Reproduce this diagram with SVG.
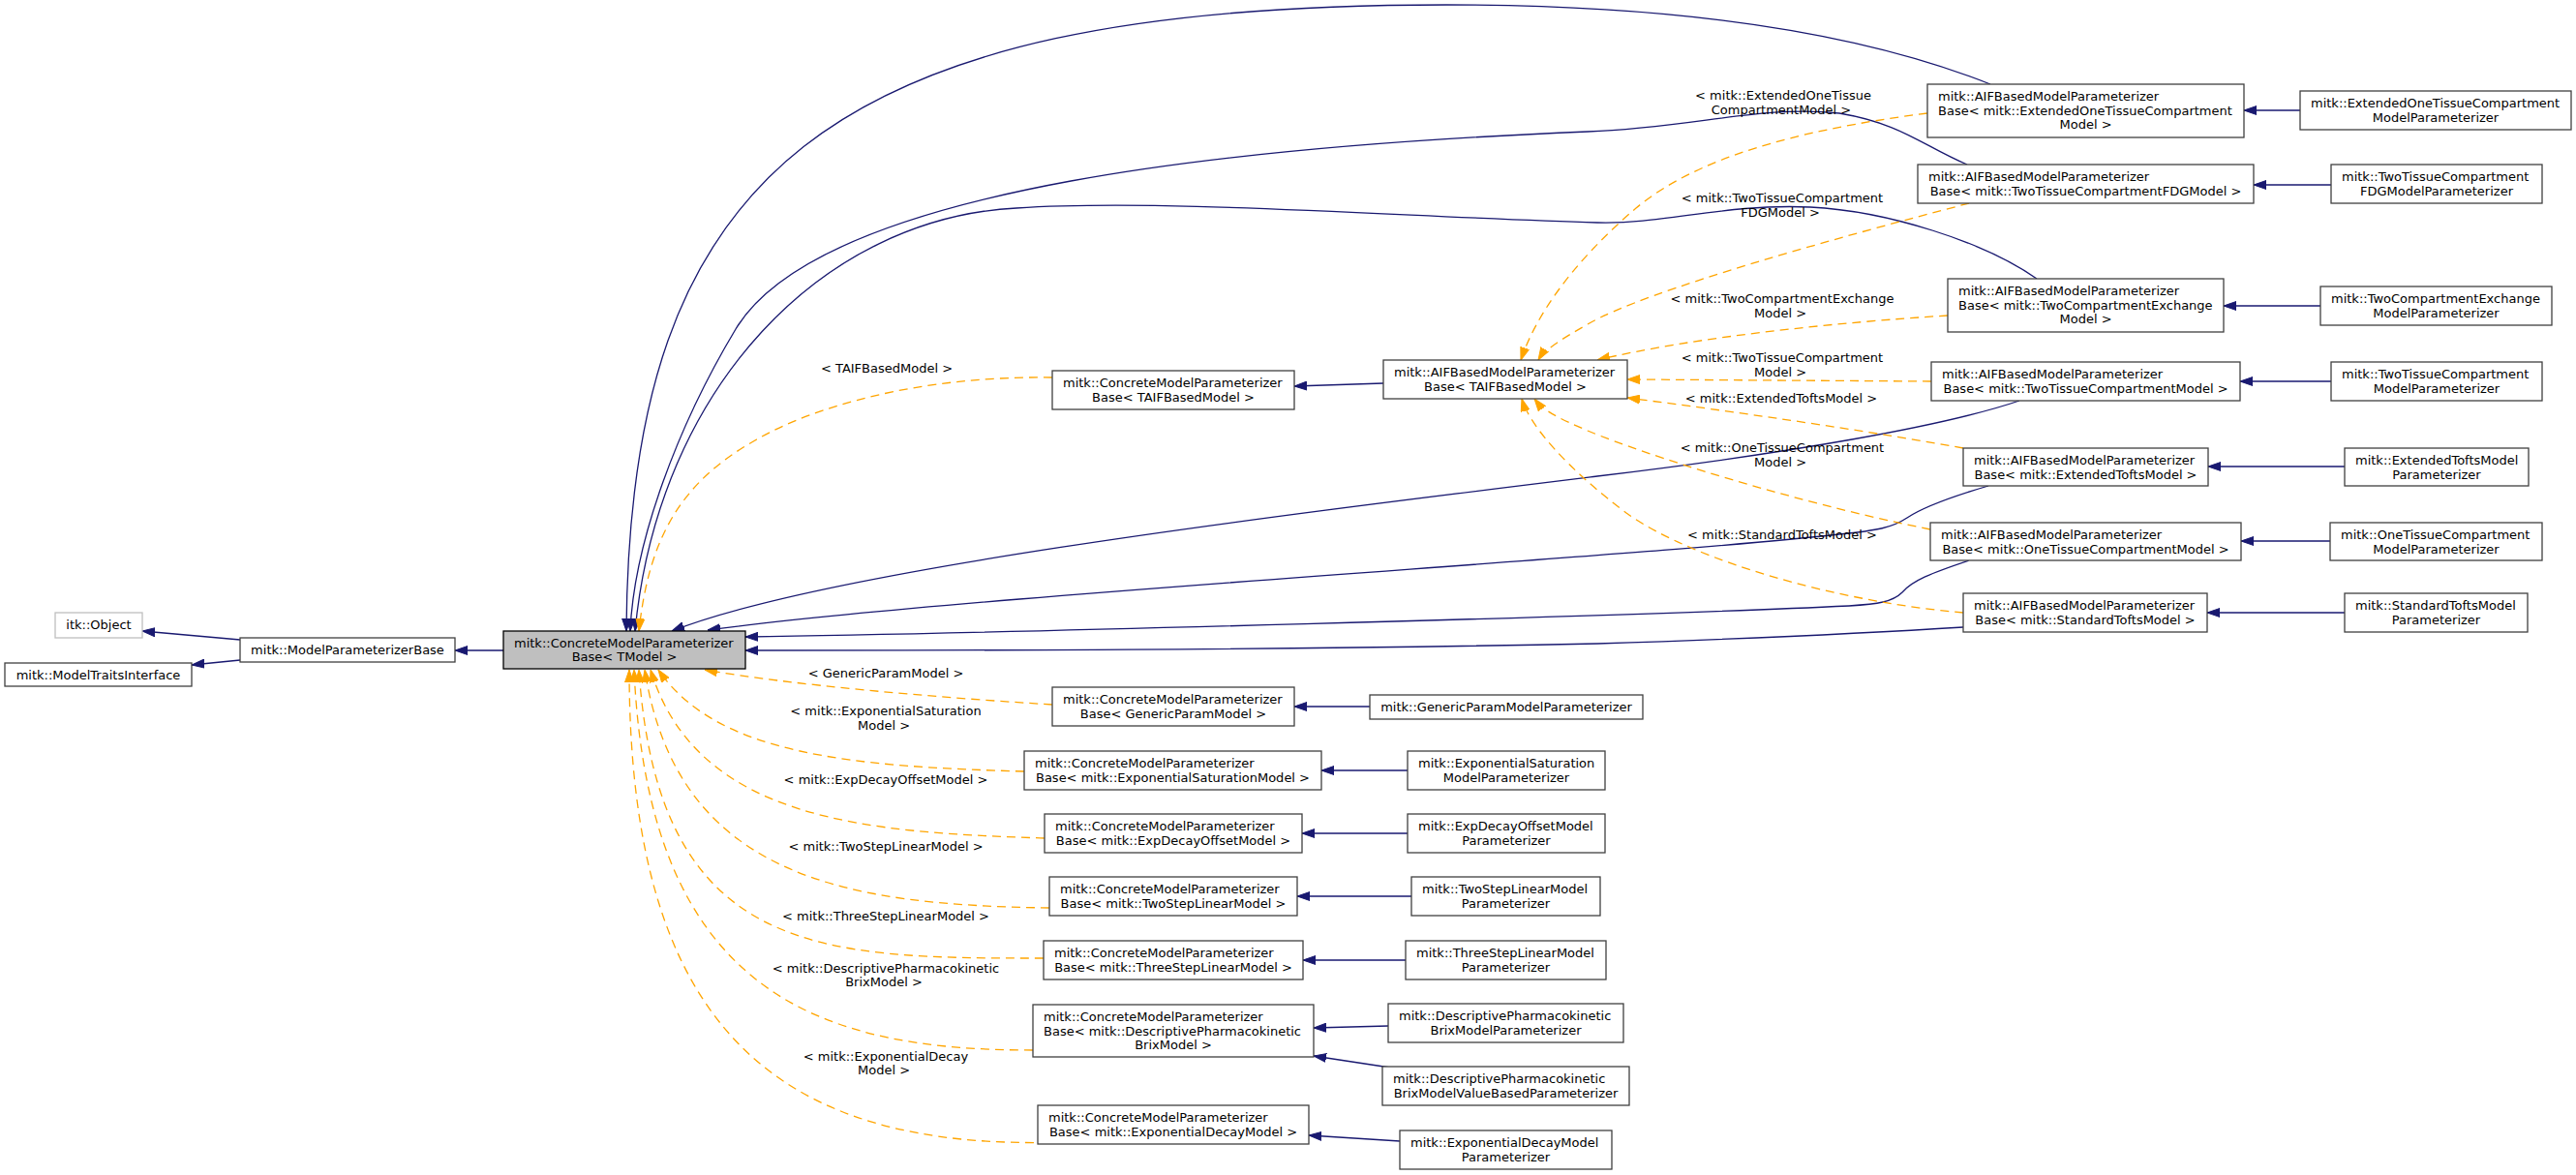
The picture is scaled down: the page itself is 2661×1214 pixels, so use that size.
<svg xmlns="http://www.w3.org/2000/svg" width="2661" height="1214" viewBox="0 0 2661 1214">
<style>
.n rect{fill:#ffffff;stroke:#404040;stroke-width:1.3}
.n.g rect{fill:#bfbfbf;stroke:#000000}
.n.u rect{stroke:#bfbfbf}
text{font-family:"DejaVu Sans","Liberation Sans",sans-serif;font-size:13px;fill:#000000}
.m{text-anchor:middle}
.nv{fill:none;stroke:#191970;stroke-width:1.3;marker-end:url(#mn)}
.or{fill:none;stroke:#ffa500;stroke-width:1.3;stroke-dasharray:9,6;marker-end:url(#mo)}
</style>
<defs>
<marker id="mn" viewBox="0 0 13 10" refX="13" refY="5" markerWidth="13" markerHeight="10" orient="auto" markerUnits="userSpaceOnUse"><path d="M0,0.5 L13,5 L0,9.5 Z" fill="#191970" stroke="#191970" stroke-width="1"/></marker>
<marker id="mo" viewBox="0 0 13 10" refX="13" refY="5" markerWidth="13" markerHeight="10" orient="auto" markerUnits="userSpaceOnUse"><path d="M0,0.5 L13,5 L0,9.5 Z" fill="#ffa500" stroke="#ffa500" stroke-width="1"/></marker>
</defs>
<rect x="0" y="0" width="2661" height="1214" fill="#ffffff"/>
<g id="edges">
<path class="nv" d="M248,661 L147,652"/>
<path class="nv" d="M248,682 L198,687"/>
<path class="nv" d="M520,672 L470,672"/>
<path class="nv" d="M2056,87 C1900,25 1700,5 1494,5 C850,5 650,180 647,652"/>
<path class="nv" d="M2032,170 C1985,150 1965,128 1900,117 C1820,108 1750,132 1640,136 C1300,150 850,190 760,340 C700,440 655,560 651,652"/>
<path class="nv" d="M2104,288 C2050,250 1950,218 1870,214 C1780,210 1720,232 1650,230 C1450,224 1200,205 1050,215 C850,225 680,400 656,652"/>
<path class="nv" d="M2086,414 C2010,440 1850,468 1650,492 C1300,535 850,590 694,652"/>
<path class="nv" d="M2054,502 C2010,515 1985,525 1970,535 C1955,545 1940,548 1900,552 C1700,575 1000,615 731,651"/>
<path class="nv" d="M2034,579 C1995,592 1975,600 1965,612 C1955,622 1940,624 1910,626 C1700,636 1000,655 770,658"/>
<path class="nv" d="M2028,648 C1950,653 1800,660 1650,665 C1300,672 1000,672 770,672"/>
<path class="nv" d="M1429,396 L1337,399"/>
<path class="nv" d="M2376,114 L2318,114"/>
<path class="nv" d="M2408,191 L2328,191"/>
<path class="nv" d="M2397,316 L2297,316"/>
<path class="nv" d="M2408,394 L2314,394"/>
<path class="nv" d="M2422,482 L2281,482"/>
<path class="nv" d="M2407,559 L2315,559"/>
<path class="nv" d="M2422,633 L2280,633"/>
<path class="nv" d="M1415,730 L1337,730"/>
<path class="nv" d="M1454,796 L1365,796"/>
<path class="nv" d="M1454,861 L1345,861"/>
<path class="nv" d="M1458,926 L1340,926"/>
<path class="nv" d="M1452,992 L1346,992"/>
<path class="nv" d="M1434,1060 L1357,1062"/>
<path class="nv" d="M1436,1103 L1357,1091"/>
<path class="nv" d="M1446,1179 L1352,1173"/>
<path class="or" d="M1087,390 C950,388 840,420 780,455 C700,500 670,560 660,652"/>
<path class="or" d="M1991,117 C1850,135 1750,165 1690,215 C1620,275 1585,330 1571,372"/>
<path class="or" d="M2034,210 C1900,245 1700,300 1640,335 C1610,352 1595,362 1589,372"/>
<path class="or" d="M2012,326 C1900,333 1750,348 1650,372"/>
<path class="or" d="M1995,394 L1681,392"/>
<path class="or" d="M2028,463 C1900,440 1750,420 1681,411"/>
<path class="or" d="M1994,547 C1850,518 1700,470 1640,445 C1610,432 1595,425 1585,412"/>
<path class="or" d="M2028,633 C1900,622 1750,580 1680,530 C1620,485 1580,440 1572,412"/>
<path class="or" d="M1087,728 C960,720 820,708 728,692"/>
<path class="or" d="M1058,797 C880,792 740,780 680,692"/>
<path class="or" d="M1079,866 C900,860 720,850 672,692"/>
<path class="or" d="M1084,938 C880,935 700,910 666,692"/>
<path class="or" d="M1078,990 C850,990 680,990 660,692"/>
<path class="or" d="M1067,1085 C850,1085 670,1030 655,692"/>
<path class="or" d="M1098,1180 C800,1190 650,1060 650,692"/>
<g id="edge-labels">
<text class="m" x="916" y="385">&lt; TAIFBasedModel &gt;</text>
<text class="m" x="1842" y="103">&lt; mitk::ExtendedOneTissue</text>
<text class="m" x="1840" y="118">CompartmentModel &gt;</text>
<text class="m" x="1841" y="209">&lt; mitk::TwoTissueCompartment</text>
<text class="m" x="1839" y="224">FDGModel &gt;</text>
<text class="m" x="1841" y="313">&lt; mitk::TwoCompartmentExchange</text>
<text class="m" x="1839" y="328">Model &gt;</text>
<text class="m" x="1841" y="374">&lt; mitk::TwoTissueCompartment</text>
<text class="m" x="1839" y="389">Model &gt;</text>
<text class="m" x="1840" y="416">&lt; mitk::ExtendedToftsModel &gt;</text>
<text class="m" x="1841" y="467">&lt; mitk::OneTissueCompartment</text>
<text class="m" x="1839" y="482">Model &gt;</text>
<text class="m" x="1841" y="557">&lt; mitk::StandardToftsModel &gt;</text>
<text class="m" x="915" y="700">&lt; GenericParamModel &gt;</text>
<text class="m" x="915" y="739">&lt; mitk::ExponentialSaturation</text>
<text class="m" x="913" y="754">Model &gt;</text>
<text class="m" x="915" y="810">&lt; mitk::ExpDecayOffsetModel &gt;</text>
<text class="m" x="915" y="879">&lt; mitk::TwoStepLinearModel &gt;</text>
<text class="m" x="915" y="951">&lt; mitk::ThreeStepLinearModel &gt;</text>
<text class="m" x="915" y="1005">&lt; mitk::DescriptivePharmacokinetic</text>
<text class="m" x="913" y="1019">BrixModel &gt;</text>
<text class="m" x="915" y="1096">&lt; mitk::ExponentialDecay</text>
<text class="m" x="913" y="1110">Model &gt;</text>
</g>
</g>
<g id="node-itk-object" class="n u"><rect x="57" y="633" width="90" height="26"/><text class="m" x="102" y="650">itk::Object</text></g>
<g id="node-model-traits-interface" class="n"><rect x="5" y="685" width="193" height="24"/><text class="m" x="101.5" y="701.5">mitk::ModelTraitsInterface</text></g>
<g id="node-model-parameterizer-base" class="n"><rect x="248" y="659" width="222" height="25"/><text class="m" x="359" y="676">mitk::ModelParameterizerBase</text></g>
<g id="node-concrete-tmodel" class="n g"><rect x="520" y="652" width="250" height="39"/><text x="531" y="668.5">mitk::ConcreteModelParameterizer</text><text class="m" x="645" y="683">Base&lt; TModel &gt;</text></g>
<g id="node-concrete-taif" class="n"><rect x="1087" y="383" width="250" height="40"/><text x="1098" y="400">mitk::ConcreteModelParameterizer</text><text class="m" x="1212" y="414.5">Base&lt; TAIFBasedModel &gt;</text></g>
<g id="node-aif-taif" class="n"><rect x="1429" y="372" width="252" height="40"/><text x="1440" y="389">mitk::AIFBasedModelParameterizer</text><text class="m" x="1555" y="403.5">Base&lt; TAIFBasedModel &gt;</text></g>
<g id="node-aif-extonetissue" class="n"><rect x="1991" y="87" width="327" height="55"/><text x="2002" y="104">mitk::AIFBasedModelParameterizer</text><text x="2002" y="118.5">Base&lt; mitk::ExtendedOneTissueCompartment</text><text class="m" x="2154.5" y="133">Model &gt;</text></g>
<g id="node-extonetissue-param" class="n"><rect x="2376" y="94" width="280" height="40"/><text x="2387" y="111">mitk::ExtendedOneTissueCompartment</text><text class="m" x="2516" y="125.5">ModelParameterizer</text></g>
<g id="node-aif-fdg" class="n"><rect x="1981" y="170" width="347" height="40"/><text x="1992" y="187">mitk::AIFBasedModelParameterizer</text><text class="m" x="2154.5" y="201.5">Base&lt; mitk::TwoTissueCompartmentFDGModel &gt;</text></g>
<g id="node-fdg-param" class="n"><rect x="2408" y="170" width="218" height="40"/><text x="2419" y="187">mitk::TwoTissueCompartment</text><text class="m" x="2517" y="201.5">FDGModelParameterizer</text></g>
<g id="node-aif-tce" class="n"><rect x="2012" y="288" width="285" height="55"/><text x="2023" y="305">mitk::AIFBasedModelParameterizer</text><text x="2023" y="319.5">Base&lt; mitk::TwoCompartmentExchange</text><text class="m" x="2154.5" y="334">Model &gt;</text></g>
<g id="node-tce-param" class="n"><rect x="2397" y="296" width="239" height="40"/><text x="2408" y="313">mitk::TwoCompartmentExchange</text><text class="m" x="2516.5" y="327.5">ModelParameterizer</text></g>
<g id="node-aif-twotissue" class="n"><rect x="1995" y="374" width="319" height="40"/><text x="2006" y="391">mitk::AIFBasedModelParameterizer</text><text class="m" x="2154.5" y="405.5">Base&lt; mitk::TwoTissueCompartmentModel &gt;</text></g>
<g id="node-twotissue-param" class="n"><rect x="2408" y="374" width="218" height="40"/><text x="2419" y="391">mitk::TwoTissueCompartment</text><text class="m" x="2517" y="405.5">ModelParameterizer</text></g>
<g id="node-aif-exttofts" class="n"><rect x="2028" y="463" width="253" height="39"/><text x="2039" y="480">mitk::AIFBasedModelParameterizer</text><text class="m" x="2154.5" y="494.5">Base&lt; mitk::ExtendedToftsModel &gt;</text></g>
<g id="node-exttofts-param" class="n"><rect x="2422" y="463" width="190" height="39"/><text x="2433" y="480">mitk::ExtendedToftsModel</text><text class="m" x="2517" y="494.5">Parameterizer</text></g>
<g id="node-aif-onetissue" class="n"><rect x="1994" y="540" width="321" height="39"/><text x="2005" y="557">mitk::AIFBasedModelParameterizer</text><text class="m" x="2154.5" y="571.5">Base&lt; mitk::OneTissueCompartmentModel &gt;</text></g>
<g id="node-onetissue-param" class="n"><rect x="2407" y="540" width="219" height="39"/><text x="2418" y="557">mitk::OneTissueCompartment</text><text class="m" x="2516.5" y="571.5">ModelParameterizer</text></g>
<g id="node-aif-stdtofts" class="n"><rect x="2028" y="613" width="252" height="40"/><text x="2039" y="630">mitk::AIFBasedModelParameterizer</text><text class="m" x="2154" y="644.5">Base&lt; mitk::StandardToftsModel &gt;</text></g>
<g id="node-stdtofts-param" class="n"><rect x="2422" y="613" width="189" height="40"/><text x="2433" y="630">mitk::StandardToftsModel</text><text class="m" x="2516.5" y="644.5">Parameterizer</text></g>
<g id="node-concrete-generic" class="n"><rect x="1087" y="710" width="250" height="40"/><text x="1098" y="727">mitk::ConcreteModelParameterizer</text><text class="m" x="1212" y="741.5">Base&lt; GenericParamModel &gt;</text></g>
<g id="node-generic-param" class="n"><rect x="1415" y="718" width="282" height="25"/><text class="m" x="1556" y="735">mitk::GenericParamModelParameterizer</text></g>
<g id="node-concrete-expsat" class="n"><rect x="1058" y="776" width="307" height="40"/><text x="1069" y="793">mitk::ConcreteModelParameterizer</text><text class="m" x="1211.5" y="807.5">Base&lt; mitk::ExponentialSaturationModel &gt;</text></g>
<g id="node-expsat-param" class="n"><rect x="1454" y="776" width="204" height="40"/><text x="1465" y="793">mitk::ExponentialSaturation</text><text class="m" x="1556" y="807.5">ModelParameterizer</text></g>
<g id="node-concrete-expdecayoffset" class="n"><rect x="1079" y="841" width="266" height="40"/><text x="1090" y="858">mitk::ConcreteModelParameterizer</text><text class="m" x="1212" y="872.5">Base&lt; mitk::ExpDecayOffsetModel &gt;</text></g>
<g id="node-expdecayoffset-param" class="n"><rect x="1454" y="841" width="204" height="40"/><text x="1465" y="858">mitk::ExpDecayOffsetModel</text><text class="m" x="1556" y="872.5">Parameterizer</text></g>
<g id="node-concrete-twostep" class="n"><rect x="1084" y="906" width="256" height="40"/><text x="1095" y="923">mitk::ConcreteModelParameterizer</text><text class="m" x="1212" y="937.5">Base&lt; mitk::TwoStepLinearModel &gt;</text></g>
<g id="node-twostep-param" class="n"><rect x="1458" y="906" width="195" height="40"/><text x="1469" y="923">mitk::TwoStepLinearModel</text><text class="m" x="1555.5" y="937.5">Parameterizer</text></g>
<g id="node-concrete-threestep" class="n"><rect x="1078" y="972" width="268" height="40"/><text x="1089" y="989">mitk::ConcreteModelParameterizer</text><text class="m" x="1212" y="1003.5">Base&lt; mitk::ThreeStepLinearModel &gt;</text></g>
<g id="node-threestep-param" class="n"><rect x="1452" y="972" width="207" height="40"/><text x="1463" y="989">mitk::ThreeStepLinearModel</text><text class="m" x="1555.5" y="1003.5">Parameterizer</text></g>
<g id="node-concrete-dpk" class="n"><rect x="1067" y="1038" width="290" height="54"/><text x="1078" y="1055">mitk::ConcreteModelParameterizer</text><text x="1078" y="1069.5">Base&lt; mitk::DescriptivePharmacokinetic</text><text class="m" x="1212" y="1084">BrixModel &gt;</text></g>
<g id="node-dpk-param" class="n"><rect x="1434" y="1037" width="243" height="40"/><text x="1445" y="1054">mitk::DescriptivePharmacokinetic</text><text class="m" x="1555.5" y="1068.5">BrixModelParameterizer</text></g>
<g id="node-dpk-valuebased-param" class="n"><rect x="1428" y="1102" width="255" height="40"/><text x="1439" y="1119">mitk::DescriptivePharmacokinetic</text><text class="m" x="1555.5" y="1133.5">BrixModelValueBasedParameterizer</text></g>
<g id="node-concrete-expdecay" class="n"><rect x="1072" y="1142" width="280" height="40"/><text x="1083" y="1159">mitk::ConcreteModelParameterizer</text><text class="m" x="1212" y="1173.5">Base&lt; mitk::ExponentialDecayModel &gt;</text></g>
<g id="node-expdecay-param" class="n"><rect x="1446" y="1168" width="219" height="40"/><text x="1457" y="1185">mitk::ExponentialDecayModel</text><text class="m" x="1555.5" y="1199.5">Parameterizer</text></g>
</svg>
